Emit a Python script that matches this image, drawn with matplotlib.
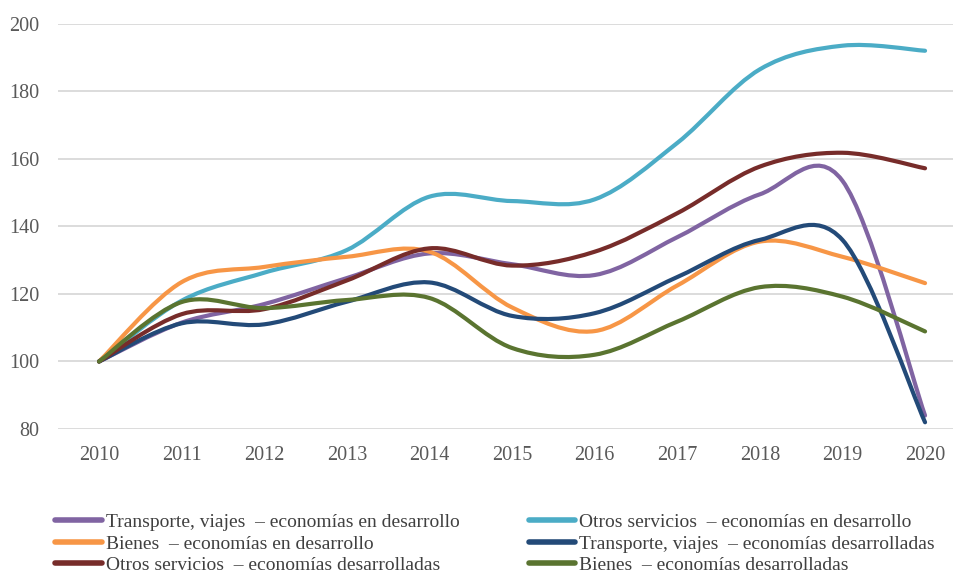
import numpy as np
import matplotlib
matplotlib.use("Agg")
import matplotlib.pyplot as plt
from matplotlib.path import Path
from matplotlib.patches import PathPatch
from matplotlib.lines import Line2D

years = ["2010", "2011", "2012", "2013", "2014", "2015",
         "2016", "2017", "2018", "2019", "2020"]

transporte_desarrollo = [100, 111.5, 117, 124.7, 132, 128.8, 125.6, 136.8, 149.5, 153.5, 84]
otros_desarrollo = [100, 118, 126.3, 133, 148.8, 147.5, 148, 164.7, 186.5, 193.5, 192]
bienes_desarrollo = [100, 123.5, 128, 131, 132.5, 116, 109, 122.5, 135.5, 131, 123.2]
transporte_desarrolladas = [100, 111.3, 111, 117.7, 123.4, 113.5, 114.3, 125, 136, 136, 82]
otros_desarrolladas = [100, 114, 115.5, 124, 133.5, 128.4, 132.5, 143.9, 157.7, 161.8, 157.2]
bienes_desarrolladas = [100, 117.6, 115.8, 118.2, 118.8, 104, 102, 111.8, 122, 119.2, 108.9]

series = [
    ("Transporte, viajes  – economías en desarrollo", transporte_desarrollo, "#8064a2"),
    ("Otros servicios  – economías en desarrollo", otros_desarrollo, "#4bacc6"),
    ("Bienes  – economías en desarrollo", bienes_desarrollo, "#f79646"),
    ("Transporte, viajes  – economías desarrolladas", transporte_desarrolladas, "#234a78"),
    ("Otros servicios  – economías desarrolladas", otros_desarrolladas, "#772c2a"),
    ("Bienes  – economías desarrolladas", bienes_desarrolladas, "#5a7430"),
]


def smooth_path(xs, ys):
    # Excel-style smoothed line: cubic Bezier through every point
    pts = np.column_stack([xs, ys]).astype(float)
    n = len(pts)
    verts = [pts[0]]
    codes = [Path.MOVETO]
    for i in range(n - 1):
        p_prev = pts[i - 1] if i > 0 else pts[i]
        p_next2 = pts[i + 2] if i + 2 < n else pts[i + 1]
        c1 = pts[i] + (pts[i + 1] - p_prev) / 6.0
        c2 = pts[i + 1] - (p_next2 - pts[i]) / 6.0
        verts += [c1, c2, pts[i + 1]]
        codes += [Path.CURVE4] * 3
    return Path(verts, codes)


plt.rcParams["font.family"] = ["Liberation Serif", "DejaVu Serif"]

fig = plt.figure(figsize=(9.56, 5.79), dpi=100)
ax = fig.add_axes([0.0604, 0.259, 0.9366, 0.700])

x = np.arange(len(years))
handles = []
for label, vals, color in series:
    patch = PathPatch(smooth_path(x, vals), fill=False, edgecolor=color,
                      linewidth=3.0, capstyle="round", joinstyle="round")
    ax.add_patch(patch)
    handles.append(Line2D([], [], color=color, linewidth=4.0,
                          solid_capstyle="round", label=label))

ax.set_xlim(-0.5, 10.34)
ax.set_ylim(80, 200)
ax.set_yticks(np.arange(80, 201, 20))
ax.set_xticks(x)
ax.set_xticklabels(years)
ax.grid(axis="y", color="#d9d9d9", linewidth=1.3)
ax.set_axisbelow(True)
ax.tick_params(length=0, labelsize=14.5, colors="#595959")
ax.tick_params(axis="x", pad=12)
ax.tick_params(axis="y", pad=13)
for spine in ax.spines.values():
    spine.set_visible(False)

# legend rows are read left to right as in the original
order = [0, 2, 4, 1, 3, 5]
fig.legend([handles[i] for i in order], [series[i][0] for i in order],
           loc="upper left", bbox_to_anchor=(0.058, 0.113), ncol=2,
           frameon=False, fontsize=14.0, handlelength=2.4, handletextpad=0.2,
           columnspacing=3.55, labelspacing=0.2, borderaxespad=0,
           borderpad=0, labelcolor="#404040")

fig.savefig("out.png", dpi=100)
